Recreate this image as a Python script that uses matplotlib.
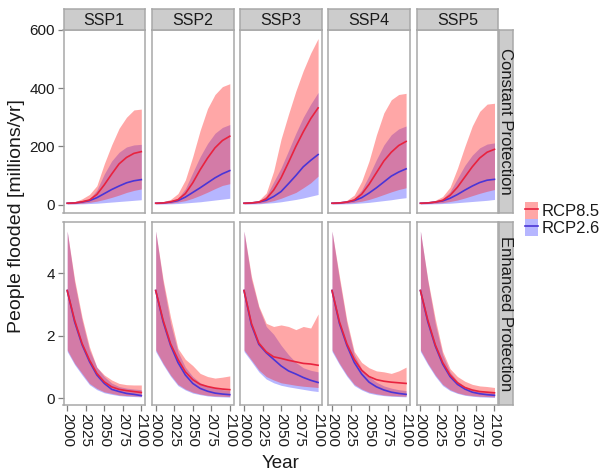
import numpy as np
import matplotlib
matplotlib.use('Agg')
import matplotlib.pyplot as plt
from matplotlib.patches import Patch
from matplotlib.lines import Line2D

plt.rcParams['font.family'] = ['Liberation Sans', 'DejaVu Sans']

years = [2000, 2010, 2020, 2030, 2040, 2050, 2060, 2070, 2080, 2090, 2100]
ssps = ['SSP1', 'SSP2', 'SSP3', 'SSP4', 'SSP5']
rows = ['Constant Protection', 'Enhanced Protection']

# Constant protection, millions/yr (one list per SSP)
const_r85_mid = [[5, 6, 10, 16, 35, 68, 105, 140, 162, 176, 182],
                 [5, 6, 10, 17, 38, 75, 120, 160, 195, 220, 235],
                 [5, 6, 9, 20, 50, 92, 145, 200, 250, 295, 332],
                 [5, 6, 9, 16, 36, 70, 110, 150, 180, 203, 217],
                 [5, 6, 9, 15, 32, 60, 95, 130, 160, 180, 190]]
const_r85_lo = [[3, 3.5, 5, 8, 12, 18, 25, 33, 42, 49, 54],
                [3, 4, 5, 9, 14, 22, 32, 43, 55, 66, 72],
                [3, 4, 5, 8, 14, 22, 32, 42, 58, 75, 98],
                [3, 4, 5, 8, 12, 18, 26, 35, 44, 52, 58],
                [3, 4, 5, 7, 11, 16, 23, 31, 39, 46, 52]]
const_r85_hi = [[8, 10, 20, 35, 65, 140, 205, 262, 300, 325, 328],
                [8, 10, 18, 38, 85, 165, 255, 330, 378, 405, 415],
                [8, 10, 15, 40, 115, 225, 310, 390, 460, 520, 570],
                [8, 10, 15, 33, 80, 150, 240, 315, 360, 378, 382],
                [8, 10, 15, 28, 60, 125, 200, 270, 320, 345, 348]]
const_r26_mid = [[5, 6, 9, 14, 24, 38, 52, 64, 75, 82, 86],
                 [5, 6, 9, 14, 26, 42, 58, 75, 92, 106, 117],
                 [5, 6, 9, 15, 28, 45, 72, 100, 130, 152, 172],
                 [5, 6, 9, 14, 24, 40, 58, 78, 98, 112, 123],
                 [5, 6, 9, 13, 22, 35, 50, 64, 76, 84, 87]]
const_r26_lo = [[2, 2.5, 3, 4, 5, 7, 9, 11, 13, 15, 17],
                [2, 2.5, 3, 4, 6, 8, 10, 13, 16, 19, 22],
                [2, 2.5, 3, 5, 7, 10, 14, 18, 23, 29, 35],
                [2, 2.5, 3, 4, 6, 8, 11, 14, 17, 21, 24],
                [2, 2.5, 3, 4, 5, 7, 9, 11, 13, 15, 18]]
const_r26_hi = [[7, 8, 12, 20, 50, 105, 150, 180, 198, 205, 207],
                [7, 8, 12, 22, 55, 110, 165, 210, 245, 265, 275],
                [7, 8, 12, 30, 78, 126, 185, 245, 300, 345, 385],
                [7, 8, 12, 22, 50, 100, 155, 205, 240, 260, 270],
                [7, 8, 12, 20, 45, 90, 135, 170, 195, 208, 212]]

# Enhanced protection
enh_r85_mid = [[3.45, 2.5, 1.76, 1.23, 0.8, 0.53, 0.37, 0.29, 0.25, 0.22, 0.19],
               [3.45, 2.5, 1.75, 1.25, 0.85, 0.6, 0.45, 0.38, 0.33, 0.3, 0.28],
               [3.45, 2.4, 1.77, 1.49, 1.33, 1.28, 1.22, 1.17, 1.12, 1.1, 1.06],
               [3.45, 2.45, 1.75, 1.25, 0.9, 0.7, 0.6, 0.55, 0.52, 0.5, 0.48],
               [3.45, 2.5, 1.72, 1.15, 0.75, 0.5, 0.35, 0.27, 0.22, 0.2, 0.18]]
enh_r85_lo = [[1.55, 1.12, 0.8, 0.48, 0.32, 0.21, 0.16, 0.11, 0.09, 0.08, 0.07],
              [1.55, 1.12, 0.75, 0.45, 0.3, 0.2, 0.14, 0.1, 0.08, 0.07, 0.06],
              [1.55, 1.23, 0.91, 0.7, 0.59, 0.5, 0.46, 0.42, 0.39, 0.37, 0.35],
              [1.55, 1.12, 0.75, 0.45, 0.3, 0.2, 0.15, 0.11, 0.09, 0.08, 0.07],
              [1.55, 1.12, 0.75, 0.45, 0.28, 0.18, 0.12, 0.09, 0.07, 0.06, 0.05]]
enh_r85_hi = [[5.35, 3.8, 2.6, 1.65, 1.0, 0.75, 0.59, 0.48, 0.44, 0.43, 0.43],
              [5.35, 3.8, 2.6, 1.6, 1.25, 1.05, 0.8, 0.7, 0.65, 0.68, 0.72],
              [5.35, 3.9, 2.95, 2.4, 2.3, 2.35, 2.3, 2.2, 2.3, 2.25, 2.7],
              [5.35, 3.9, 2.5, 1.5, 1.15, 0.98, 0.88, 0.85, 0.8, 0.88, 1.0],
              [5.35, 3.8, 2.55, 1.5, 0.95, 0.7, 0.55, 0.45, 0.4, 0.38, 0.35]]
enh_r26_mid = [[3.45, 2.45, 1.72, 1.18, 0.75, 0.48, 0.29, 0.22, 0.16, 0.13, 0.09],
               [3.45, 2.45, 1.7, 1.15, 0.75, 0.48, 0.32, 0.23, 0.17, 0.14, 0.12],
               [3.45, 2.35, 1.73, 1.46, 1.25, 1.04, 0.88, 0.78, 0.67, 0.58, 0.51],
               [3.45, 2.4, 1.7, 1.15, 0.78, 0.52, 0.37, 0.27, 0.2, 0.16, 0.13],
               [3.45, 2.45, 1.68, 1.1, 0.7, 0.45, 0.3, 0.2, 0.15, 0.12, 0.1]]
enh_r26_lo = [[1.5, 1.08, 0.75, 0.44, 0.28, 0.18, 0.13, 0.09, 0.07, 0.06, 0.05],
              [1.5, 1.08, 0.71, 0.41, 0.27, 0.17, 0.12, 0.08, 0.06, 0.05, 0.04],
              [1.5, 1.18, 0.85, 0.62, 0.5, 0.42, 0.37, 0.33, 0.29, 0.25, 0.22],
              [1.5, 1.08, 0.71, 0.41, 0.27, 0.17, 0.12, 0.09, 0.07, 0.06, 0.05],
              [1.5, 1.08, 0.71, 0.41, 0.25, 0.16, 0.1, 0.07, 0.05, 0.04, 0.03]]
enh_r26_hi = [[5.35, 3.7, 2.5, 1.55, 1.0, 0.7, 0.49, 0.38, 0.33, 0.3, 0.28],
              [5.35, 3.7, 2.4, 1.5, 1.0, 0.7, 0.5, 0.4, 0.33, 0.28, 0.25],
              [5.35, 3.8, 2.9, 2.3, 2.05, 1.7, 1.4, 1.15, 0.98, 0.9, 0.85],
              [5.35, 3.8, 2.4, 1.4, 0.95, 0.7, 0.52, 0.4, 0.33, 0.28, 0.25],
              [5.35, 3.75, 2.4, 1.4, 0.85, 0.55, 0.38, 0.28, 0.22, 0.2, 0.18]]

red_fill, blue_fill = '#ff2424', '#1010ff'
red_alpha, blue_alpha = 0.4, 0.3
red_line, blue_line = '#e8233f', '#4a35d6'
frame = '#a8a8a8'
strip_bg = '#cccccc'
txt = '#1a1a1a'

W, H = 600, 472
fig = plt.figure(figsize=(6, 4.72), dpi=100)

lefts = [63.5, 152, 240.3, 328.3, 416.7]
pw = 81.5
row_y = [(29.5, 213), (222, 405)]

data = [
    (const_r85_mid, const_r85_lo, const_r85_hi, const_r26_mid, const_r26_lo, const_r26_hi),
    (enh_r85_mid, enh_r85_lo, enh_r85_hi, enh_r26_mid, enh_r26_lo, enh_r26_hi),
]
ylims = [(-28.5, 601), (-0.21, 5.64)]
yticks = [[0, 200, 400, 600], [0, 2, 4]]


def style_frame(ax):
    for s in ax.spines.values():
        s.set_color(frame)
        s.set_linewidth(1.1)


for r in range(2):
    y0, y1 = row_y[r]
    r85m, r85l, r85h, r26m, r26l, r26h = data[r]
    for c in range(5):
        ax = fig.add_axes([lefts[c] / W, 1 - y1 / H, pw / W, (y1 - y0) / H])
        ax.fill_between(years, r26l[c], r26h[c], color=blue_fill, alpha=blue_alpha, lw=0)
        ax.fill_between(years, r85l[c], r85h[c], color=red_fill, alpha=red_alpha, lw=0)
        ax.plot(years, r26m[c], color=blue_line, lw=1.2)
        ax.plot(years, r85m[c], color=red_line, lw=1.2)
        ax.set_xlim(1995, 2105)
        ax.set_ylim(*ylims[r])
        ax.set_xticks([2000, 2025, 2050, 2075, 2100])
        ax.set_yticks(yticks[r])
        style_frame(ax)
        ax.tick_params(color='#7f7f7f', length=4, width=0.9, labelcolor=txt)
        ax.tick_params(axis='y', labelsize=11, pad=2)
        ax.tick_params(axis='x', labelsize=11, pad=2, labelrotation=-90)
        if r == 0:
            ax.tick_params(axis='x', bottom=False, labelbottom=False)
        if c > 0:
            ax.tick_params(axis='y', left=False, labelleft=False)

        if r == 0:
            sax = fig.add_axes([lefts[c] / W, 1 - 29.5 / H, pw / W, 20.5 / H])
            sax.set_facecolor(strip_bg)
            sax.set_xticks([])
            sax.set_yticks([])
            style_frame(sax)
            sax.text(0.5, 0.45, ssps[c], ha='center', va='center', fontsize=11.5, color=txt,
                     transform=sax.transAxes)

    rax = fig.add_axes([498.5 / W, 1 - y1 / H, 14.5 / W, (y1 - y0) / H])
    rax.set_facecolor(strip_bg)
    rax.set_xticks([])
    rax.set_yticks([])
    style_frame(rax)
    rax.text(0.45, 0.5, rows[r], ha='center', va='center', rotation=-90, fontsize=12,
             color=txt, transform=rax.transAxes)

fig.text(17 / W, 1 - 216 / H, 'People flooded [millions/yr]', rotation=90, ha='center',
         va='center', fontsize=14, color=txt)
fig.text(281 / W, 1 - 463 / H, 'Year', ha='center', va='center', fontsize=13.5, color=txt)

handles = [(Patch(facecolor=red_fill, alpha=red_alpha, lw=0), Line2D([], [], color=red_line, lw=1.2)),
           (Patch(facecolor=blue_fill, alpha=blue_alpha, lw=0), Line2D([], [], color=blue_line, lw=1.2))]
fig.legend(handles, ['RCP8.5', 'RCP2.6'], loc='center left',
           bbox_to_anchor=(517 / W, 1 - 219 / H), frameon=False, fontsize=12,
           handlelength=0.75, handleheight=1.15, handletextpad=0.2, labelspacing=0.0,
           borderpad=0, labelcolor=txt)

fig.savefig('out.png', dpi=100)
